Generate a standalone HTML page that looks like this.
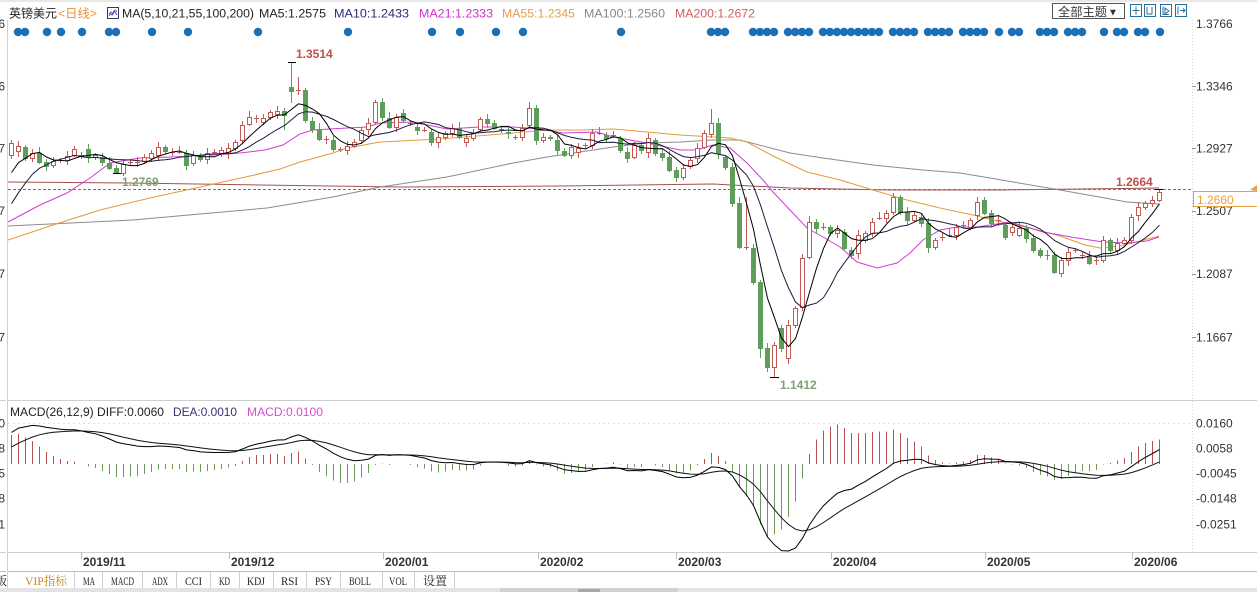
<!DOCTYPE html>
<html><head><meta charset="utf-8"><style>
html,body{margin:0;padding:0;background:#fff;overflow:hidden}
svg{display:block}
text{font-family:"Liberation Sans","Noto Sans CJK SC",sans-serif}
.tb{font-family:"Liberation Serif","Noto Serif CJK SC",serif;font-size:12px;fill:#222}
</style></head><body>
<svg id="s" width="1257" height="592" viewBox="0 0 1257 592" xmlns="http://www.w3.org/2000/svg">
<defs>
<clipPath id="cm"><rect x="8" y="20" width="1184" height="380"/></clipPath>
<clipPath id="cq"><rect x="8" y="401" width="1184" height="151"/></clipPath>
</defs>
<rect width="1257" height="592" fill="#fff"/>
<rect x="0" y="0" width="1257" height="2" fill="#e8e8e8"/>

<!-- header -->
<text x="9" y="17.5" font-size="12" fill="#222" textLength="48" lengthAdjust="spacingAndGlyphs">英镑美元</text>
<text x="58" y="17.5" font-size="12" fill="#e8923a" textLength="39" lengthAdjust="spacingAndGlyphs">&lt;日线&gt;</text>
<rect x="107.5" y="7.5" width="11" height="11" fill="#fff" stroke="#333a66"/>
<polyline points="109,16 111,12 113,14 115,10 117,12" fill="none" stroke="#c040c0" stroke-width="1"/>
<polyline points="109,13 112,15 114,11 117,15" fill="none" stroke="#3355aa" stroke-width="1"/>
<text x="122" y="17.5" font-size="12.3" fill="#222" textLength="132" lengthAdjust="spacingAndGlyphs">MA(5,10,21,55,100,200)</text>
<text x="259" y="17.5" font-size="12.3" fill="#222" textLength="67" lengthAdjust="spacingAndGlyphs">MA5:1.2575</text>
<text x="334" y="17.5" font-size="12.3" fill="#2b2b7a" textLength="75" lengthAdjust="spacingAndGlyphs">MA10:1.2433</text>
<text x="419" y="17.5" font-size="12.3" fill="#cc33cc" textLength="74" lengthAdjust="spacingAndGlyphs">MA21:1.2333</text>
<text x="502" y="17.5" font-size="12.3" fill="#e5a04a" textLength="73" lengthAdjust="spacingAndGlyphs">MA55:1.2345</text>
<text x="584" y="17.5" font-size="12.3" fill="#888" textLength="81" lengthAdjust="spacingAndGlyphs">MA100:1.2560</text>
<text x="675" y="17.5" font-size="12.3" fill="#d0605a" textLength="80" lengthAdjust="spacingAndGlyphs">MA200:1.2672</text>

<!-- top right buttons -->
<rect x="1052.5" y="3.5" width="72" height="15" fill="#fff" stroke="#555"/>
<text x="1058" y="16" font-size="12" fill="#333" textLength="49" lengthAdjust="spacingAndGlyphs">全部主题</text>
<text x="1108" y="15.5" font-size="10" fill="#333">▼</text>
<g fill="#fff" stroke="#2a6f9a">
<rect x="1130.5" y="4.5" width="11" height="12"/>
<rect x="1144.5" y="4.5" width="11" height="12"/>
<rect x="1160.5" y="4.5" width="11" height="12"/>
<rect x="1175.5" y="4.5" width="11" height="12"/>
</g>
<g stroke="#2a6f9a" fill="none">
<path d="M1136 6.5v8M1132.5 10.5h7"/>
<path d="M1147 7v7h5M1152 7v7"/>
<path d="M1163 6.5v8h6M1165 8l4 3l-4 3z"/>
<path d="M1178 6.5v8M1180 10.5h5M1183 8.5l2 2l-2 2"/>
</g>

<!-- frame lines -->
<line x1="7.5" y1="20" x2="7.5" y2="572" stroke="#d0d0d0"/>
<line x1="1192.5" y1="20" x2="1192.5" y2="552" stroke="#d8d8d8" stroke-dasharray="1,2"/>
<line x1="0" y1="400.5" x2="1257" y2="400.5" stroke="#cfcfcf"/>
<line x1="8" y1="423.5" x2="1192" y2="423.5" stroke="#e2e2e2" stroke-dasharray="2,3"/>
<line x1="0" y1="552.5" x2="1257" y2="552.5" stroke="#cfcfcf"/>
<line x1="0" y1="571.5" x2="1257" y2="571.5" stroke="#bdbdbd"/>
<rect x="0" y="588" width="1257" height="4" fill="#e3e3e3"/>
<rect x="500" y="588" width="178" height="4" fill="#d2d2d2"/>
<rect x="578" y="589" width="22" height="3" fill="#a8a8a8"/>

<!-- dots -->
<g id="dots" fill="#1b6fb5"></g>

<!-- main chart -->
<g clip-path="url(#cm)">
<polyline fill="none" stroke="#a0524e" stroke-width="1" points="8,182 130,183 260,185 400,187 560,186 713,184 790,188 890,190 1000,190 1159,188"/>
<polyline fill="none" stroke="#8c8c8c" stroke-width="1" points="8,226 133,220 200,214 267,208 333,197 380,187 447,177 513,163 547,157 580,152 613,147 647,143 680,142 713,140 740,140 790,153 823,158 873,165 923,170 960,173 990,178 1060,190 1127,202 1159,204"/>
<line x1="8" y1="189.5" x2="1192" y2="189.5" stroke="#3a88b0" stroke-dasharray="3,2"/>
<polyline fill="none" stroke="#e59a3a" stroke-width="1" points="8,240 50,226 100,210 150,198 200,187 250,176 280,169 300,162 333,153 347,148 380,142 440,139 513,133 547,130 580,130 613,129 647,132 680,135 713,137 730,138 747,142 773,156 807,172 840,180 873,190 907,200 940,208 973,215 993,220 1030,228 1060,236 1085,245 1100,248 1120,246 1140,241 1159,236"/>
<polyline fill="none" stroke="#d23cd2" stroke-width="1" points="8,222 40,205 67,193 90,178 110,163 140,158 200,156 240,153 265,150 283,145 300,134 313,130 347,128 367,127 380,123 413,122 447,129 480,127 513,127 540,129 563,133 597,132 613,137 647,143 680,150 697,150 713,145 730,148 747,163 763,180 773,192 790,210 807,228 823,237 840,247 857,262 877,268 897,263 910,253 923,240 940,230 957,227 977,227 1010,222 1043,232 1077,238 1103,242 1127,243 1147,241 1159,237"/>
<g id="cd" shape-rendering="crispEdges"></g>
<polyline id="ma10" fill="none" stroke="#1c1c40" stroke-width="1"/>
<polyline id="ma5" fill="none" stroke="#000" stroke-width="1"/>
<g stroke="#000">
<line x1="288" y1="62.5" x2="296" y2="62.5"/>
<line x1="113" y1="173.5" x2="121" y2="173.5"/>
<line x1="770" y1="377.5" x2="779" y2="377.5"/>
<line x1="1155" y1="189.5" x2="1163" y2="189.5"/>
</g>
</g>
<text x="296" y="58" font-size="12" font-weight="bold" fill="#c0504d">1.3514</text>
<text x="122" y="186" font-size="12" font-weight="bold" fill="#7fa275">1.2769</text>
<text x="780" y="389" font-size="12" font-weight="bold" fill="#7fa275">1.1412</text>
<text x="1116" y="186" font-size="12" font-weight="bold" fill="#c0504d">1.2664</text>

<!-- right price axis -->
<g font-size="12" fill="#333">
<text x="1196" y="28">1.3766</text>
<text x="1196" y="90.5">1.3346</text>
<text x="1196" y="152.5">1.2927</text>
<text x="1196" y="215">1.2507</text>
<text x="1196" y="278">1.2087</text>
<text x="1196" y="341.5">1.1667</text>
</g>
<g stroke="#999">
<line x1="1192" y1="86.5" x2="1196" y2="86.5"/><line x1="1192" y1="148.5" x2="1196" y2="148.5"/>
<line x1="1192" y1="211.5" x2="1196" y2="211.5"/><line x1="1192" y1="274.5" x2="1196" y2="274.5"/>
<line x1="1192" y1="337.5" x2="1196" y2="337.5"/>
</g>
<rect x="1193.5" y="191.5" width="64" height="15" fill="#fff" stroke="#e8a040"/>
<text x="1197" y="204" font-size="12" fill="#e8a040">1.2660</text>
<polygon points="1250,190 1257,185 1257,191" fill="#e8a040"/>
<!-- left clipped labels -->
<g font-size="12" fill="#333" text-anchor="end">
<text x="5" y="28">1.3766</text><text x="5" y="90.5">1.3346</text><text x="5" y="152.5">1.2927</text>
<text x="5" y="215">1.2507</text><text x="5" y="278">1.2087</text><text x="5" y="341.5">1.1667</text>
<text x="5" y="427.5">0.0160</text><text x="5" y="452.5">0.0058</text><text x="5" y="477.5">-0.0045</text>
<text x="5" y="502.5">-0.0148</text><text x="5" y="528.5">-0.0251</text>
</g>
<rect x="6" y="20" width="1.5" height="552" fill="#fff"/>
<line x1="7.5" y1="20" x2="7.5" y2="572" stroke="#d0d0d0"/>

<!-- MACD -->
<text x="10" y="416" font-size="12.3" fill="#222" textLength="154" lengthAdjust="spacingAndGlyphs">MACD(26,12,9) DIFF:0.0060</text>
<text x="173" y="416" font-size="12.3" fill="#333377" textLength="64" lengthAdjust="spacingAndGlyphs">DEA:0.0010</text>
<text x="247" y="416" font-size="12.3" fill="#d050d0" textLength="76" lengthAdjust="spacingAndGlyphs">MACD:0.0100</text>
<g clip-path="url(#cq)">
<g id="hist" shape-rendering="crispEdges"></g>
<polyline id="dea" fill="none" stroke="#111" stroke-width="1"/>
<polyline id="dif" fill="none" stroke="#000" stroke-width="1"/>
</g>
<g font-size="12" fill="#333">
<text x="1196" y="427.5">0.0160</text>
<text x="1196" y="452.5">0.0058</text>
<text x="1196" y="477.5">-0.0045</text>
<text x="1196" y="502.5">-0.0148</text>
<text x="1196" y="528.5">-0.0251</text>
</g>

<!-- dates -->
<g stroke="#bbb">
<line x1="81.5" y1="552" x2="81.5" y2="559"/><line x1="229.5" y1="552" x2="229.5" y2="559"/>
<line x1="383.5" y1="552" x2="383.5" y2="559"/><line x1="538.5" y1="552" x2="538.5" y2="559"/>
<line x1="676.5" y1="552" x2="676.5" y2="559"/><line x1="831.5" y1="552" x2="831.5" y2="559"/>
<line x1="985.5" y1="552" x2="985.5" y2="559"/><line x1="1132.5" y1="552" x2="1132.5" y2="559"/>
</g>
<g font-size="12" font-weight="bold" fill="#333">
<text x="83" y="566">2019/11</text><text x="231" y="566">2019/12</text>
<text x="385" y="566">2020/01</text><text x="540" y="566">2020/02</text>
<text x="678" y="566">2020/03</text><text x="833" y="566">2020/04</text>
<text x="987" y="566">2020/05</text><text x="1134" y="566">2020/06</text>
</g>

<!-- tab bar -->
<g stroke="#cfcfcf">
<line x1="7.5" y1="572" x2="7.5" y2="588"/><line x1="74.5" y1="572" x2="74.5" y2="588"/>
<line x1="102.5" y1="572" x2="102.5" y2="588"/><line x1="142.5" y1="572" x2="142.5" y2="588"/>
<line x1="176.5" y1="572" x2="176.5" y2="588"/><line x1="210.5" y1="572" x2="210.5" y2="588"/>
<line x1="239.5" y1="572" x2="239.5" y2="588"/><line x1="273.5" y1="572" x2="273.5" y2="588"/>
<line x1="306.5" y1="572" x2="306.5" y2="588"/><line x1="340.5" y1="572" x2="340.5" y2="588"/>
<line x1="382.5" y1="572" x2="382.5" y2="588"/><line x1="414.5" y1="572" x2="414.5" y2="588"/>
<line x1="454.5" y1="572" x2="454.5" y2="588"/>
</g>
<text class="tb" x="7" y="585" text-anchor="end">版</text>
<text class="tb" x="25" y="585" fill="#c8861e" style="fill:#c8861e" textLength="42" lengthAdjust="spacingAndGlyphs">VIP指标</text>
<text class="tb" x="83" y="585" textLength="12" lengthAdjust="spacingAndGlyphs">MA</text>
<text class="tb" x="111" y="585" textLength="23" lengthAdjust="spacingAndGlyphs">MACD</text>
<text class="tb" x="152" y="585" textLength="16" lengthAdjust="spacingAndGlyphs">ADX</text>
<text class="tb" x="185" y="585" textLength="17" lengthAdjust="spacingAndGlyphs">CCI</text>
<text class="tb" x="219" y="585" textLength="11" lengthAdjust="spacingAndGlyphs">KD</text>
<text class="tb" x="247" y="585" textLength="18" lengthAdjust="spacingAndGlyphs">KDJ</text>
<text class="tb" x="281" y="585" textLength="17" lengthAdjust="spacingAndGlyphs">RSI</text>
<text class="tb" x="315" y="585" textLength="17" lengthAdjust="spacingAndGlyphs">PSY</text>
<text class="tb" x="349" y="585" textLength="22" lengthAdjust="spacingAndGlyphs">BOLL</text>
<text class="tb" x="389" y="585" textLength="18" lengthAdjust="spacingAndGlyphs">VOL</text>
<text class="tb" x="423" y="585" textLength="24" lengthAdjust="spacingAndGlyphs">设置</text>
</svg>
<script>
(function(){
var ns="http://www.w3.org/2000/svg";
function el(t,a,p){var e=document.createElementNS(ns,t);for(var k in a)e.setAttribute(k,a[k]);p.appendChild(e);return e;}
var D=[[155,143],[151,146],[147,158],[158,153],[153,162],[162,166],[165,161],[160,160],[160,156],[155,149],
[155,155],[149,157],[157,155],[157,162],[163,168],[168,172],[173,164],[162,162],[162,162],[161,157],
[158,153],[155,147],[147,151],[152,152],[152,152],[153,165],[163,155],[155,159],[159,153],[152,152],
[153,150],[153,148],[148,142],[140,125],[124,117],[118,118],[122,118],[117,112],[114,111],[111,115],
[87,91],[90,90],[90,120],[121,129],[129,139],[139,139],[140,149],[149,149],[150,146],[146,142],
[140,130],[129,123],[122,102],[102,117],[118,127],[127,117],[113,120],[123,123],[127,130],[130,130],
[132,142],[142,137],[137,133],[133,128],[128,137],[142,138],[138,133],[129,119],[119,123],[123,128],
[129,129],[132,133],[137,137],[137,128],[125,108],[108,140],[140,137],[137,138],[140,150],[151,155],
[155,147],[152,148],[145,145],[145,133],[133,133],[135,138],[135,135],[138,150],[152,158],[157,145],
[145,150],[152,138],[140,153],[153,157],[157,170],[170,177],[177,168],[166,160],[158,148],[147,133],
[134,123],[123,153],[157,167],[167,203],[203,247],[247,247],[248,282],[282,348],[348,367],[367,345],
[328,348],[358,325],[325,308],[307,258],[257,222],[222,228],[227,227],[227,233],[233,230],[232,248],
[250,255],[253,235],[240,233],[233,222],[218,218],[218,213],[212,197],[197,212],[212,220],[220,215],
[217,223],[223,247],[247,240],[237,237],[235,235],[235,227],[225,225],[227,220],[215,202],[200,213],
[213,223],[220,220],[225,237],[232,227],[235,228],[228,238],[238,250],[250,255],[255,255],[255,272],
[273,260],[260,252],[250,250],[255,255],[257,263],[260,260],[260,240],[240,250],[250,243],[243,240],
[240,217],[215,207],[207,203],[203,200],[200,192]];
var H=[1.2150,1.2125,1.2265,1.2275,1.2285,1.2225,1.2215,1.2175,1.2205,1.2155,1.2055,1.2065,1.2195,1.2285,1.2295,1.2355,1.2345,1.2335,1.2355,1.2470,1.2500,1.2495,1.2475,1.2505,1.2465,1.2455,1.2425,1.2435,1.2345,1.2325,1.2290,1.2300,1.2295,1.2305,1.2212,1.2212,1.2319,1.2440,1.2587,1.2614,1.2721,1.2748,1.2802];
function py(p){return 24+(1.3766-p)*1493;}
function pr(y){return 1.3766-(y-24)/1493;}
var gC=document.getElementById('cd');
var W=[3,5,2,4,6,3,4,2,5,3];
var OV={15:[null,174],39:[null,130],40:[62,103],41:[77,95],100:[109,null],105:[197,250],107:[null,358],108:[null,372],109:[null,377],164:[189,null]};
var RED='#c25b55',GRN='#5f9e5a';
for(var i=0;i<D.length;i++){
 var o=D[i][0],c=D[i][1],x=11+7*i;
 var top=Math.min(o,c),bot=Math.max(o,c);
 var hi=top-W[i%10],lo=bot+W[(i+3)%10];
 if(OV[i]){if(OV[i][0]!=null)hi=OV[i][0];if(OV[i][1]!=null)lo=OV[i][1];}
 var up=c<=o,col=up?RED:GRN;
 el('line',{x1:x+.5,y1:hi,x2:x+.5,y2:lo,stroke:col},gC);
 if(o==c){el('line',{x1:x-2,y1:o+.5,x2:x+3,y2:o+.5,stroke:col},gC);}
 else if(up){el('rect',{x:x-1.5,y:top+.5,width:4,height:bot-top,fill:'#fff',stroke:col},gC);}
 else{el('rect',{x:x-2,y:top,width:5,height:bot-top+1,fill:col},gC);}
}
var HY=H.map(py),CY=D.map(function(d){return d[1];}),ALL=HY.concat(CY),n0=HY.length;
function ma(n){var pts=[];for(var i=0;i<D.length;i++){var k=n0+i,s=0;for(var j=0;j<n;j++)s+=ALL[k-j];pts.push((11+7*i+.5)+','+(s/n).toFixed(1));}return pts.join(' ');}
document.getElementById('ma5').setAttribute('points',ma(5));
document.getElementById('ma10').setAttribute('points',ma(10));
var P=H.concat(CY.map(pr));
var e12=P[0],e26=P[0],dea=0,out=[];
for(var k=0;k<P.length;k++){e12+=(P[k]-e12)*2/13;e26+=(P[k]-e26)*2/27;var dif=e12-e26;dea+=(dif-dea)*2/10;if(k>=n0)out.push([dif,dea,2*(dif-dea)]);}
var Z=464,S=2476,gH=document.getElementById('hist'),pd=[],pe=[];
for(var i=0;i<out.length;i++){
 var x=11+7*i+.5,m=out[i][2];
 el('line',{x1:x,y1:Z,x2:x,y2:(Z-m*S).toFixed(1),stroke:m>=0?'#b85050':'#6a9a5a'},gH);
 pd.push(x+','+(Z-out[i][0]*S).toFixed(1));pe.push(x+','+(Z-out[i][1]*S).toFixed(1));
}
document.getElementById('dif').setAttribute('points',pd.join(' '));
document.getElementById('dea').setAttribute('points',pe.join(' '));
var DX=[18,25,47,61,82,109,116,152,188,258,348,432,460,496,523,621,711,718,725,753,760,767,774,788,795,802,809,823,830,837,844,851,858,865,872,879,893,900,907,914,928,935,942,949,963,970,977,984,999,1012,1019,1040,1047,1054,1068,1075,1082,1104,1117,1124,1138,1145,1160];
var gd=document.getElementById('dots');
for(var i=0;i<DX.length;i++)el('circle',{cx:DX[i],cy:32,r:4.2},gd);
})();
</script>
</body></html>
